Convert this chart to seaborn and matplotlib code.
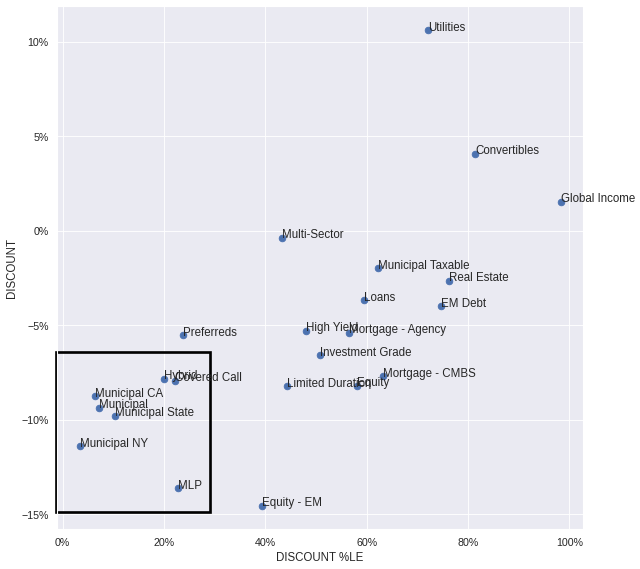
import pandas as pd
import matplotlib
matplotlib.use('Agg')
import matplotlib.pyplot as plt
import matplotlib.ticker as mtick
from matplotlib.patches import Rectangle
import seaborn as sns

# Sector discount data
sectors = ['Utilities', 'Convertibles', 'Global Income', 'Multi-Sector', 'Municipal Taxable',
           'Real Estate', 'Loans', 'EM Debt', 'High Yield', 'Mortgage - Agency',
           'Investment Grade', 'Mortgage - CMBS', 'Equity', 'Limited Duration', 'Preferreds',
           'Hybrid', 'Covered Call', 'Municipal CA', 'Municipal', 'Municipal State',
           'Municipal NY', 'MLP', 'Equity - EM']
discount_pctle = [0.721, 0.814, 0.983, 0.433, 0.622, 0.762, 0.595, 0.746, 0.480, 0.565,
                  0.508, 0.632, 0.581, 0.443, 0.238, 0.200, 0.222, 0.064, 0.072, 0.103,
                  0.035, 0.228, 0.394]
discount = [0.106, 0.0407, 0.0153, -0.0037, -0.0200, -0.0265, -0.0370, -0.0400, -0.0530,
            -0.0540, -0.0660, -0.0770, -0.0820, -0.0825, -0.0555, -0.0783, -0.0794, -0.0878,
            -0.0937, -0.0979, -0.1140, -0.1365, -0.1455]

df = pd.DataFrame({'Sector': sectors, 'DISCOUNT %LE': discount_pctle, 'DISCOUNT': discount})

sns.set_theme(style='darkgrid')
plt.rcParams['font.family'] = ['Liberation Sans', 'DejaVu Sans']

fig, ax = plt.subplots(figsize=(10, 8.9), dpi=64)
fig.subplots_adjust(left=0.089, right=0.911, top=0.989, bottom=0.070)

ax.scatter(df['DISCOUNT %LE'], df['DISCOUNT'], color='#4C72B0', s=55)
for _, row in df.iterrows():
    ax.text(row['DISCOUNT %LE'], row['DISCOUNT'], row['Sector'], color='#262626', fontsize=13)

ax.xaxis.set_major_formatter(mtick.PercentFormatter(1.0, decimals=0))
ax.yaxis.set_major_formatter(mtick.PercentFormatter(1.0, decimals=0))
ax.set_xticks([0, 0.2, 0.4, 0.6, 0.8, 1.0])
ax.set_yticks([-0.15, -0.10, -0.05, 0, 0.05, 0.10])
ax.tick_params(labelsize=12)
ax.set_xlim(-0.011, 1.027)
ax.set_ylim(-0.158, 0.119)
ax.set_xlabel('DISCOUNT %LE', fontsize=13)
ax.set_ylabel('DISCOUNT', fontsize=13)

# highlight box around the municipal cluster
ax.add_patch(Rectangle((-0.013, -0.149), 0.304, 0.0845, fill=False,
                       edgecolor='black', linewidth=3, clip_on=False))

plt.savefig('out.png', dpi=64)
